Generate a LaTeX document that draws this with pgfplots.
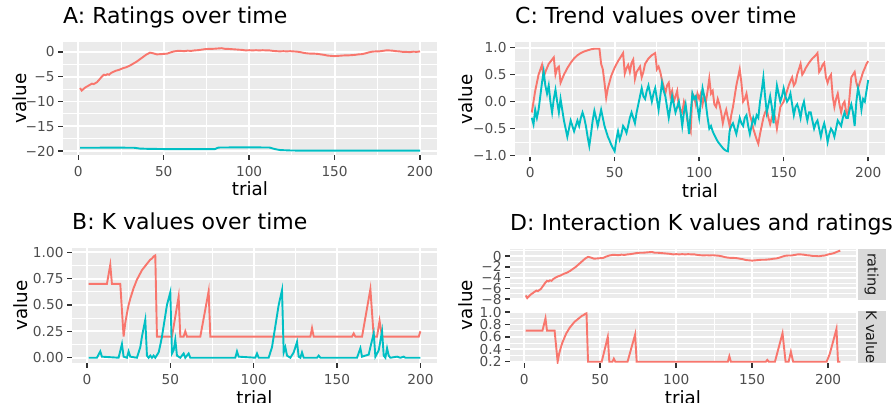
\documentclass[border=0pt]{standalone}
\usepackage{fontspec}
\setmainfont{DejaVu Sans}
\usepackage{pgfplots}
\pgfplotsset{compat=1.18}
\usetikzlibrary{calc}
\definecolor{ggred}{HTML}{F8766D}
\definecolor{ggblue}{HTML}{00BFC4}
\definecolor{panelc}{HTML}{EBEBEB}
\definecolor{tickc}{HTML}{333333}
\definecolor{labc}{HTML}{4D4D4D}
\definecolor{stripc}{HTML}{D9D9D9}
\definecolor{stript}{HTML}{1A1A1A}
\newcommand{\tickfont}{\fontsize{13.7}{14}\selectfont}
\newcommand{\titlefont}{\fontsize{22}{24}\selectfont}
\newcommand{\labfont}{\fontsize{18.3}{20}\selectfont}
\newcommand{\stripfont}{\fontsize{14.5}{15}\selectfont}
\pgfplotsset{
  gg/.style={
    scale only axis,
    axis background/.style={fill=panelc},
    axis line style={draw=none},
    grid=both,
    major grid style={draw=white, line width=1.9pt},
    minor grid style={draw=white, line width=0.95pt},
    xtick pos=bottom, ytick pos=left,
    tick align=outside,
    major tick length=4.6pt,
    minor tick length=0pt,
    major tick style={draw=tickc, line width=1.4pt},
    tick label style={font=\tickfont, text=labc, inner sep=0pt},
    yticklabel style={anchor=east, xshift=-3.7pt},
    xticklabel style={anchor=base, yshift=-16.5pt},
    xtick={0,50,100,150,200},
    minor xtick={25,75,125,175},
    xticklabels={0,50,100,150,200},
    title style={at={(0,1)}, anchor=base west, yshift=12pt, font=\titlefont, inner sep=0pt},
    label style={font=\labfont, inner sep=0pt},
    xlabel style={at={(axis description cs:0.5,0)}, anchor=base, yshift=-41pt},
    every axis plot/.append style={line width=1.9pt, no markers},
  }
}
\begin{document}
\begin{tikzpicture}
\path[use as bounding box] (0pt,0pt) rectangle (895pt,402pt);
% ---------------- A ----------------
\begin{axis}[gg, anchor=south west, at={(63pt,247pt)}, width=374pt, height=113pt,
  xmin=-8.95, xmax=209.95, ymin=-20.8, ymax=2.0,
  ytick={-20,-15,-10,-5,0}, yticklabels={−20,−15,−10,−5,0},
  minor ytick={-17.5,-12.5,-7.5,-2.5},
  title={A: Ratings over time}, xlabel={trial}, ylabel={value},
  ylabel style={at={(axis description cs:-0.0963,0.5)}, anchor=base}]
\addplot[ggred] coordinates {(1,-7.3) (2,-7.8) (3,-7.5) (4,-7.2) (5,-7.0) (6,-6.8) (7,-6.6) (8,-6.4) (9,-6.5) (10,-6.3) (11,-6.1) (12,-5.7) (13,-5.3) (14,-4.9) (15,-4.6) (16,-4.7) (17,-4.5) (18,-4.6) (19,-4.3) (20,-4.1) (22,-3.8) (24,-3.6) (26,-3.3) (28,-3.1) (30,-2.8) (32,-2.4) (34,-2.0) (36,-1.5) (38,-1.0) (40,-0.5) (42,-0.15) (44,-0.3) (46,-0.5) (48,-0.45) (50,-0.4) (52,-0.35) (54,-0.1) (56,0.1) (58,0.2) (60,0.2) (62,0.15) (64,0.25) (66,0.2) (68,0.3) (70,0.35) (72,0.45) (74,0.55) (76,0.6) (78,0.6) (80,0.65) (82,0.7) (84,0.75) (86,0.6) (88,0.6) (90,0.55) (92,0.5) (94,0.45) (96,0.4) (98,0.3) (100,0.35) (102,0.3) (104,0.35) (106,0.3) (108,0.35) (110,0.3) (112,0.3) (114,0.2) (116,0.15) (118,0.1) (120,0.15) (122,0.1) (124,0.15) (126,0.1) (128,0.05) (130,-0.05) (132,-0.2) (134,-0.3) (136,-0.35) (138,-0.35) (140,-0.4) (142,-0.5) (144,-0.6) (146,-0.75) (148,-0.8) (150,-0.85) (152,-0.8) (154,-0.75) (156,-0.7) (158,-0.7) (160,-0.65) (162,-0.6) (164,-0.5) (166,-0.45) (168,-0.3) (170,-0.1) (172,0.05) (174,0.1) (176,0.1) (178,0.2) (180,0.3) (182,0.3) (184,0.25) (186,0.15) (188,0.1) (190,0.0) (192,0.0) (194,-0.05) (196,0.05) (198,0.0) (200,0.1)};
\addplot[ggblue] coordinates {(1,-19.33) (10,-19.33) (20,-19.32) (30,-19.33) (33,-19.35) (36,-19.5) (40,-19.55) (50,-19.6) (60,-19.6) (70,-19.6) (80,-19.6) (82,-19.3) (90,-19.27) (100,-19.27) (110,-19.28) (112,-19.3) (115,-19.6) (118,-19.8) (125,-19.9) (140,-19.92) (160,-19.92) (180,-19.92) (200,-19.93)};
\end{axis}
% ---------------- C ----------------
\begin{axis}[gg, anchor=south west, at={(515pt,245.3pt)}, width=370pt, height=114.7pt,
  xmin=-8.95, xmax=209.95, ymin=-1.02, ymax=1.105,
  ytick={-1,-0.5,0,0.5,1}, yticklabels={−1.0,−0.5,0.0,0.5,1.0},
  minor ytick={-0.75,-0.25,0.25,0.75},
  title={C: Trend values over time}, xlabel={trial}, ylabel={value},
  ylabel style={at={(axis description cs:-0.116,0.5)}, anchor=base}]
\addplot[ggred] coordinates {(1,-0.2) (3,0.2) (5,0.5) (7,0.68) (8,0.45) (9,0.55) (11,0.7) (13,0.78) (14,0.82) (15,0.5) (16,0.62) (17,0.65) (18,0.35) (20,0.5) (22,0.62) (24,0.72) (26,0.8) (28,0.86) (30,0.9) (32,0.93) (34,0.95) (36,0.97) (38,0.98) (40,0.98) (41,0.98) (42,0.7) (43,0.6) (44,0.35) (45,0.07) (46,0.25) (48,0.48) (50,0.63) (52,0.75) (54,0.85) (55,0.9) (56,0.52) (57,0.62) (58,0.68) (59,0.55) (60,0.72) (61,0.78) (62,0.42) (63,0.55) (64,0.6) (65,0.65) (66,0.45) (67,0.55) (68,0.7) (70,0.8) (72,0.86) (74,0.9) (75,0.6) (76,0.65) (77,0.55) (78,0.4) (79,0.28) (80,0.15) (81,0.3) (82,0.35) (83,0.1) (84,0.2) (85,0.0) (86,0.1) (87,0.2) (88,-0.1) (89,-0.15) (90,-0.2) (91,0.0) (92,-0.1) (93,-0.35) (95,-0.55) (96,0.15) (97,0.1) (98,-0.05) (99,0.15) (100,0.05) (101,0.15) (102,-0.05) (103,0.1) (104,0.0) (105,0.2) (106,0.43) (107,0.15) (108,0.2) (109,-0.05) (110,-0.1) (111,0.05) (112,-0.05) (113,-0.2) (114,-0.4) (115,-0.25) (116,-0.15) (117,-0.3) (118,-0.45) (119,-0.25) (120,-0.1) (121,0.1) (122,0.3) (123,0.45) (124,0.6) (125,0.35) (126,0.0) (127,0.05) (128,0.15) (129,-0.05) (130,-0.25) (131,-0.35) (132,-0.5) (133,-0.6) (134,-0.7) (135,-0.78) (136,-0.6) (137,-0.45) (138,-0.3) (139,-0.2) (140,-0.15) (141,-0.3) (142,-0.42) (143,-0.3) (144,-0.2) (145,-0.3) (146,-0.5) (147,-0.3) (148,-0.1) (149,-0.05) (150,0.0) (151,0.1) (152,0.2) (153,0.3) (154,0.38) (155,0.45) (156,0.3) (157,0.35) (158,0.5) (159,0.6) (160,0.7) (161,0.5) (162,0.55) (163,0.62) (165,0.72) (167,0.8) (169,0.86) (170,0.9) (171,0.55) (172,0.6) (173,0.68) (174,0.72) (175,0.45) (176,0.35) (177,0.45) (178,0.5) (179,0.1) (180,-0.1) (181,0.05) (182,0.15) (183,-0.05) (184,-0.2) (185,-0.05) (186,0.0) (187,-0.2) (188,-0.25) (189,0.1) (190,0.45) (191,0.5) (192,0.55) (193,0.35) (194,0.25) (195,0.35) (196,0.45) (197,0.55) (198,0.62) (199,0.7) (200,0.75)};
\addplot[ggblue] coordinates {(1,-0.3) (2,-0.42) (3,-0.15) (4,-0.3) (5,-0.15) (6,0.1) (7,0.35) (8,0.56) (9,0.3) (10,0.15) (11,0.3) (12,0.0) (13,-0.2) (14,0.05) (15,0.22) (16,0.0) (17,-0.2) (18,0.05) (19,-0.15) (20,-0.35) (21,-0.5) (22,-0.65) (23,-0.5) (24,-0.35) (25,-0.45) (26,-0.55) (27,-0.45) (28,-0.35) (29,-0.45) (30,-0.3) (31,-0.2) (32,-0.3) (33,-0.45) (34,-0.65) (35,-0.82) (36,-0.6) (37,-0.35) (38,-0.17) (39,-0.3) (40,-0.45) (41,-0.3) (42,-0.15) (43,-0.3) (44,-0.45) (45,-0.55) (46,-0.65) (47,-0.72) (48,-0.8) (49,-0.86) (50,-0.92) (51,-0.7) (52,-0.55) (53,-0.7) (54,-0.6) (55,-0.45) (56,-0.5) (57,-0.58) (58,-0.45) (59,-0.3) (60,-0.2) (61,-0.3) (62,-0.4) (63,-0.2) (64,-0.05) (65,0.1) (66,0.25) (67,0.1) (68,0.05) (69,0.2) (70,0.3) (71,0.15) (72,0.0) (73,0.15) (74,0.25) (75,0.05) (76,-0.15) (77,0.1) (78,0.35) (79,0.2) (80,0.1) (81,-0.1) (82,-0.3) (83,-0.1) (84,0.1) (85,-0.05) (86,-0.2) (87,-0.1) (88,0.0) (89,-0.2) (90,-0.45) (91,-0.2) (92,-0.05) (93,-0.3) (94,-0.6) (95,-0.2) (96,0.15) (97,0.05) (98,0.1) (99,-0.1) (100,-0.3) (101,0.0) (102,0.25) (103,0.1) (104,-0.05) (105,-0.3) (106,-0.5) (107,-0.45) (108,-0.55) (109,-0.62) (110,-0.68) (111,-0.74) (112,-0.78) (113,-0.82) (114,-0.86) (115,-0.89) (116,-0.91) (117,-0.92) (118,-0.55) (119,-0.45) (120,-0.4) (121,-0.5) (122,-0.6) (123,-0.45) (124,-0.3) (125,-0.4) (126,-0.45) (127,-0.3) (128,-0.25) (129,-0.45) (130,-0.6) (131,-0.45) (132,-0.3) (133,-0.4) (134,-0.25) (135,-0.3) (136,0.0) (137,0.2) (138,0.45) (139,0.1) (140,-0.2) (141,-0.05) (142,0.1) (143,-0.1) (144,-0.4) (145,0.0) (146,0.3) (147,0.15) (148,0.0) (149,0.1) (150,0.25) (151,0.1) (152,0.0) (153,0.05) (154,0.15) (155,-0.05) (156,-0.25) (157,-0.1) (158,-0.05) (159,-0.15) (160,-0.3) (161,-0.1) (162,0.0) (163,-0.2) (164,-0.35) (165,-0.2) (166,-0.2) (167,-0.35) (168,-0.5) (169,-0.4) (170,-0.35) (171,-0.5) (172,-0.65) (173,-0.5) (174,-0.4) (175,-0.55) (176,-0.75) (177,-0.6) (178,-0.5) (179,-0.55) (180,-0.65) (181,-0.5) (182,-0.35) (183,-0.4) (184,-0.45) (185,-0.3) (186,-0.2) (187,-0.3) (188,-0.3) (189,-0.15) (190,-0.05) (191,-0.2) (192,-0.45) (193,0.0) (194,0.25) (195,0.1) (196,-0.15) (197,0.05) (198,0.0) (199,0.2) (200,0.4)};
\end{axis}
% ---------------- B ----------------
\begin{axis}[gg, anchor=south west, at={(72pt,39pt)}, width=365pt, height=115pt,
  xmin=-8.95, xmax=209.95, ymin=-0.05, ymax=1.04,
  ytick={0,0.25,0.5,0.75,1}, yticklabels={0.00,0.25,0.50,0.75,1.00},
  minor ytick={0.125,0.375,0.625,0.875},
  title={B: K values over time}, xlabel={trial}, ylabel={value},
  ylabel style={at={(axis description cs:-0.123,0.5)}, anchor=base}]
\addplot[ggred] coordinates {(1,0.7) (12,0.7) (14,0.88) (15,0.7) (20,0.7) (22,0.2) (23,0.33) (24,0.42) (25,0.5) (26,0.56) (27,0.61) (28,0.66) (29,0.7) (30,0.74) (31,0.77) (32,0.8) (33,0.83) (34,0.85) (35,0.87) (36,0.89) (37,0.91) (38,0.93) (39,0.94) (40,0.96) (41,0.97) (42,0.2) (51,0.2) (55,0.58) (56,0.2) (58,0.2) (59,0.25) (60,0.2) (68,0.2) (73,0.63) (74,0.2) (134,0.2) (135,0.28) (136,0.2) (159,0.2) (160,0.23) (161,0.2) (165,0.2) (170,0.65) (172,0.2) (174,0.2) (175.5,0.35) (177,0.2) (199,0.2) (200,0.25)};
\addplot[ggblue] coordinates {(1,0.0) (6,0.0) (8,0.06) (9,0.01) (19,0.0) (21,0.13) (22,0.01) (24,0.0) (25,0.06) (26,0.01) (30,0.0) (32,0.1) (33,0.2) (35,0.36) (36,0.02) (37,0.0) (38,0.02) (39,0.0) (40,0.02) (41,0.0) (43,0.05) (44,0.12) (45,0.2) (46,0.3) (47,0.4) (48,0.5) (50,0.62) (51,0.04) (52,0.07) (53,0.17) (54,0.02) (56,0.0) (58,0.04) (59,0.0) (61,0.04) (62,0.0) (89,0.0) (90,0.06) (91,0.01) (101,0.0) (102,0.04) (103,0.0) (109,0.0) (111,0.1) (112,0.2) (113,0.3) (114,0.4) (115,0.5) (117,0.64) (118,0.05) (119,0.1) (120,0.02) (122,0.0) (124,0.05) (126,0.15) (127,0.01) (128,0.0) (129,0.05) (130,0.0) (138,0.0) (139,0.02) (140,0.0) (162,0.0) (164,0.09) (165,0.01) (169,0.03) (170,0.1) (172,0.23) (173,0.01) (175,0.07) (177,0.25) (178,0.02) (179,0.0) (180,0.09) (181,0.02) (182,0.0) (186,0.01) (188,0.0) (190,0.01) (191,0.0) (200,0.0)};
\end{axis}
% ---------------- D ----------------
\begin{axis}[gg, name=d1, anchor=south west, at={(510pt,102pt)}, width=346pt, height=51pt,
  xmin=-9.35, xmax=218.35, ymin=-8.15, ymax=1.3,
  xticklabels={}, major x tick style={draw=none},
  ytick={-8,-6,-4,-2,0}, yticklabels={−8,−6,−4,−2,0},
  minor ytick={-7,-5,-3,-1,1},
  title={D: Interaction K values and ratings}]
\addplot[ggred] coordinates {(1,-7.3) (2,-7.8) (3,-7.5) (4,-7.2) (5,-7.0) (6,-6.8) (7,-6.6) (8,-6.4) (9,-6.5) (10,-6.3) (11,-6.1) (12,-5.7) (13,-5.3) (14,-4.9) (15,-4.6) (16,-4.7) (17,-4.5) (18,-4.6) (19,-4.3) (20,-4.1) (22,-3.8) (24,-3.6) (26,-3.3) (28,-3.1) (30,-2.8) (32,-2.4) (34,-2.0) (36,-1.5) (38,-1.0) (40,-0.5) (42,-0.15) (44,-0.3) (46,-0.5) (48,-0.45) (50,-0.4) (52,-0.35) (54,-0.1) (56,0.1) (58,0.2) (60,0.2) (62,0.15) (64,0.25) (66,0.2) (68,0.3) (70,0.35) (72,0.45) (74,0.55) (76,0.6) (78,0.6) (80,0.65) (82,0.7) (84,0.75) (86,0.6) (88,0.6) (90,0.55) (92,0.5) (94,0.45) (96,0.4) (98,0.3) (100,0.35) (102,0.3) (104,0.35) (106,0.3) (108,0.35) (110,0.3) (112,0.3) (114,0.2) (116,0.15) (118,0.1) (120,0.15) (122,0.1) (124,0.15) (126,0.1) (128,0.05) (130,-0.05) (132,-0.2) (134,-0.3) (136,-0.35) (138,-0.35) (140,-0.4) (142,-0.5) (144,-0.6) (146,-0.75) (148,-0.8) (150,-0.85) (152,-0.8) (154,-0.75) (156,-0.7) (158,-0.7) (160,-0.65) (162,-0.6) (164,-0.5) (166,-0.45) (168,-0.3) (170,-0.1) (172,0.05) (174,0.1) (176,0.1) (178,0.2) (180,0.3) (182,0.3) (184,0.25) (186,0.15) (188,0.1) (190,0.0) (192,0.0) (194,-0.05) (196,0.05) (198,0.1) (200,0.3) (202,0.4) (204,0.55) (206,0.8) (208,1.0)};
\end{axis}
\begin{axis}[gg, name=d2, anchor=south west, at={(510pt,39pt)}, width=346pt, height=52pt,
  xmin=-9.35, xmax=218.35, ymin=0.18, ymax=1.017,
  ytick={0.2,0.4,0.6,0.8,1}, yticklabels={0.2,0.4,0.6,0.8,1.0},
  minor ytick={0.3,0.5,0.7,0.9},
  xlabel={trial}, ylabel={value},
  ylabel style={at={(axis description cs:-0.1098,1.115)}, anchor=base}]
\addplot[ggred] coordinates {(1,0.7) (12,0.7) (14,0.9) (15,0.7) (20,0.7) (22,0.2) (23,0.33) (24,0.42) (25,0.5) (26,0.56) (27,0.62) (28,0.67) (29,0.71) (30,0.75) (31,0.78) (32,0.81) (33,0.84) (34,0.86) (35,0.88) (36,0.9) (37,0.92) (38,0.94) (39,0.95) (40,0.97) (41,0.98) (42,0.2) (51,0.2) (55,0.6) (56,0.2) (58,0.2) (59,0.25) (60,0.2) (68,0.2) (73,0.64) (74,0.2) (134,0.2) (135,0.29) (136,0.2) (159,0.2) (160,0.23) (161,0.2) (165,0.2) (170,0.66) (172,0.2) (174,0.2) (175.5,0.36) (177,0.2) (199,0.2) (201,0.32) (203,0.5) (205.5,0.73) (206.5,0.2) (208,0.2)};
\end{axis}
\fill[stripc] ([xshift=1.5pt]d1.south east) rectangle ([xshift=29.5pt]d1.north east);
\fill[stripc] ([xshift=1.5pt]d2.south east) rectangle ([xshift=29.5pt]d2.north east);
\node[rotate=-90, font=\stripfont, text=stript, inner sep=0pt] at ($(d1.east)+(15.5pt,0pt)$) {rating};
\node[rotate=-90, font=\stripfont, text=stript, inner sep=0pt] at ($(d2.east)+(15.5pt,0pt)$) {K value};
\end{tikzpicture}
\end{document}
